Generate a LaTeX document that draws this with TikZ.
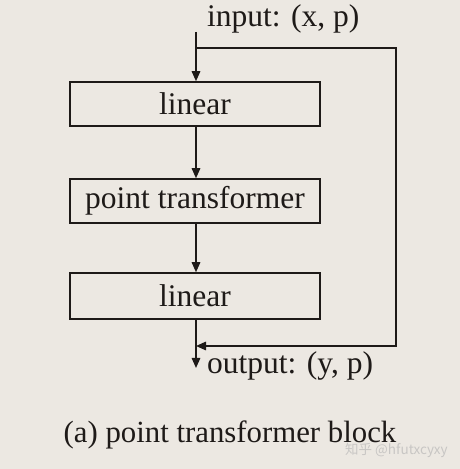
\documentclass[tikz,border=0pt]{standalone}
\usepackage{fontspec}
\setmainfont{Liberation Serif}
\newfontfamily\cjkfont{Noto Sans CJK SC}
\usepackage{tikz}
\usetikzlibrary{arrows.meta}
\usetikzlibrary{positioning}
\definecolor{paper}{RGB}{236,232,226}
\definecolor{ink}{RGB}{30,26,24}
\definecolor{wmark}{RGB}{200,198,196}
\tikzset{
	layer/.style={draw=ink, line width=1.5pt, minimum width=250pt, minimum height=44pt, inner sep=0pt, text=ink, font=\fontsize{31.5}{36}\selectfont},
	flow/.style={draw=ink, line width=1.5pt, -{Triangle[length=10pt, width=8.5pt]}},
	wire/.style={draw=ink, line width=1.5pt},
	label/.style={text=ink, inner sep=0pt, font=\fontsize{31.5}{36}\selectfont}
}
\begin{document}
\begin{tikzpicture}[x=1pt, y=1pt]
					\fill[paper] (0,0) rectangle (460,469);
					\useasboundingbox (0,0) rectangle (460,469);
					% main path
					\coordinate (in) at (196,437);
					\coordinate (split) at (196,421);
					\node[layer] (lin1) at (195,365) {linear};
					\node[layer] (pt) at (195,268) {point transformer};
					\node[layer, minimum height=46pt] (lin2) at (195,173) {linear};
					\coordinate (merge) at (196,123);
					\coordinate (out) at (196,101);
					\draw[flow] (in) -- (lin1.north -| in);
					\draw[flow] (lin1.south -| in) -- (pt.north -| in);
					\draw[flow] (pt.south -| in) -- (lin2.north -| in);
					\draw[flow] (lin2.south -| in) -- (out);
					% skip connection
					\draw[flow] (split) -| (396,123) -- (merge);
					\node[label, anchor=base west] (input) at (207,442) {input: (x, p)};
					\node[label, anchor=base west] (output) at (207,95) {output: (y, p)};
					\node[label, anchor=base, font=\fontsize{30.8}{36}\selectfont] (caption) at (230,27) {(a) point transformer block};
					\node[anchor=west, inner sep=0pt, text=wmark, font=\cjkfont\fontsize{13.5}{15}\selectfont] (mark) at (345,19) {知乎 @hfutxcyxy};
				\end{tikzpicture}
\end{document}
